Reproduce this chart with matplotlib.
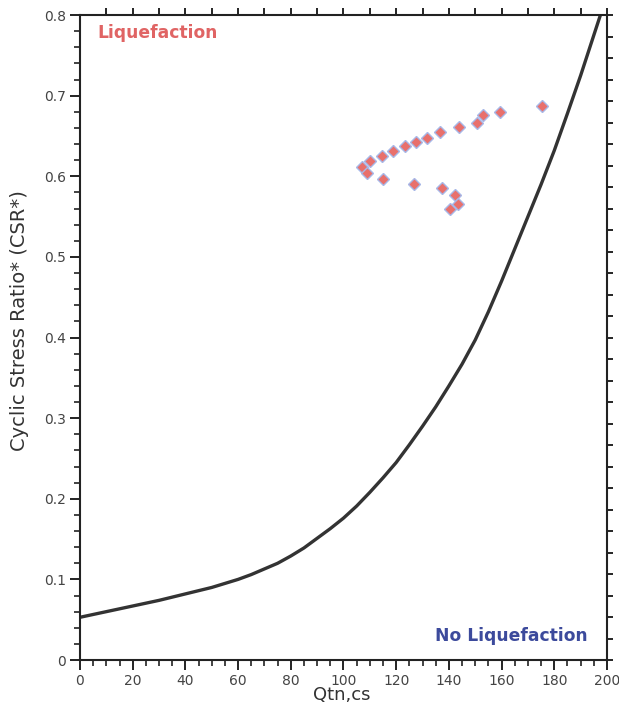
import numpy as np
import matplotlib
matplotlib.use("Agg")
import matplotlib.pyplot as plt

# boundary curve
curve_q = [0, 10, 20, 30, 40, 50, 55, 60, 65, 70, 75, 80, 85, 90, 95, 100,
           105, 110, 115, 120, 125, 130, 135, 140, 145, 150, 155, 160, 165,
           170, 175, 180, 185, 190, 195, 197.5]
curve_csr = [0.053, 0.060, 0.067, 0.074, 0.082, 0.090, 0.095, 0.100, 0.106,
             0.113, 0.120, 0.129, 0.139, 0.151, 0.163, 0.176, 0.191, 0.208,
             0.226, 0.245, 0.267, 0.290, 0.314, 0.340, 0.367, 0.397, 0.432,
             0.470, 0.510, 0.550, 0.590, 0.632, 0.678, 0.725, 0.775, 0.800]

# data points
pts_q = [106.9, 110.1, 114.5, 118.9, 123.3, 127.5, 131.6, 136.6, 143.8,
         150.5, 153.1, 159.4, 175.2,
         108.8, 115.1, 126.8, 137.3, 142.3, 143.6, 140.4]
pts_csr = [0.611, 0.619, 0.625, 0.631, 0.638, 0.643, 0.648, 0.655, 0.661,
           0.666, 0.676, 0.680, 0.687,
           0.604, 0.597, 0.590, 0.585, 0.577, 0.566, 0.560]

fig = plt.figure(figsize=(6.19, 7.13), dpi=100)
ax = fig.add_axes([0.1292, 0.0743, 0.8514, 0.9046])

ax.plot(curve_q, curve_csr, color="#333333", lw=2.4, solid_capstyle="round",
        solid_joinstyle="round")
ax.plot(pts_q, pts_csr, ls="none", marker="D", ms=6.5,
        mfc="#e8706c", mec="#a8b8e8", mew=1.0)

ax.set_xlim(0, 200)
ax.set_ylim(0, 0.8)
ax.set_xticks(np.arange(0, 201, 20))
ax.set_xticks(np.arange(0, 201, 5), minor=True)
ax.set_yticks(np.arange(0, 0.81, 0.1))
ax.set_yticks(np.arange(0, 0.81, 0.02), minor=True)
ax.set_yticklabels(["0", "0.1", "0.2", "0.3", "0.4", "0.5", "0.6", "0.7", "0.8"])

for s in ax.spines.values():
    s.set_linewidth(1.5)
    s.set_color("#222222")
ax.tick_params(which="major", direction="out", length=7, width=1.4,
               colors="#222222", labelsize=10, labelcolor="#444444", pad=3)
ax.tick_params(which="minor", direction="out", length=4, width=1.2,
               colors="#222222")

# top and right tick rows
top = ax.secondary_xaxis("top")
top.set_xticks(np.arange(10, 201, 10))
top.tick_params(direction="out", length=5, width=1.2, labeltop=False)
top.spines["top"].set_visible(False)
right = ax.secondary_yaxis("right")
right.set_yticks(np.linspace(0, 0.8, 31))
right.tick_params(direction="out", length=4, width=1.2, labelright=False)
right.spines["right"].set_visible(False)

ax.set_xlabel("Qtn,cs", fontsize=13, color="#333333")
ax.set_ylabel("Cyclic Stress Ratio* (CSR*)", fontsize=14, color="#333333")
ax.xaxis.set_label_coords(0.497, -0.041)
ax.yaxis.set_label_coords(-0.097, 0.526)

ax.text(6.5, 0.778, "Liquefaction", color="#e06464", fontsize=12.3,
        fontweight="bold", ha="left", va="center")
ax.text(192.8, 0.030, "No Liquefaction", color="#3c4a9c", fontsize=12.3,
        fontweight="bold", ha="right", va="center")

fig.savefig("out.png", dpi=100)
